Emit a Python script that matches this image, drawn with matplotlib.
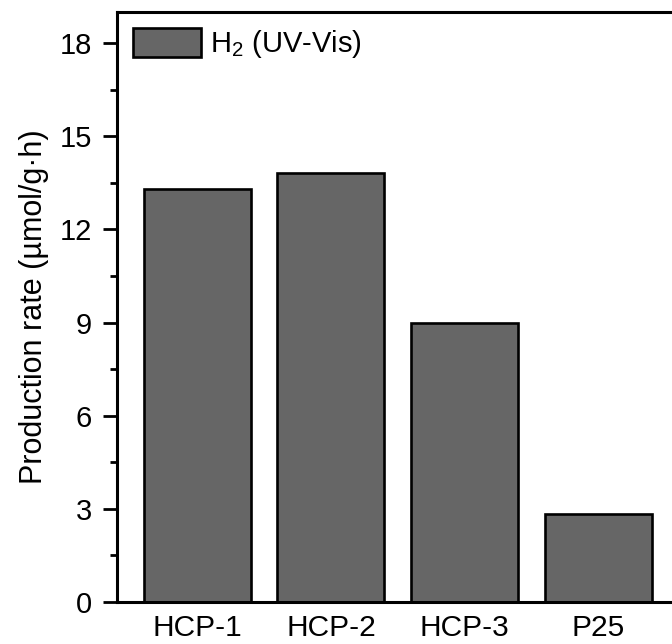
import matplotlib
matplotlib.use("Agg")
import matplotlib.pyplot as plt
from matplotlib.ticker import MultipleLocator

categories = ["HCP-1", "HCP-2", "HCP-3", "P25"]
values = [13.3, 13.8, 9.0, 2.83]
series_label = "H$_2$ (UV-Vis)"
yticks = [0, 3, 6, 9, 12, 15, 18]

plt.rcParams['font.family'] = ['Liberation Sans', 'DejaVu Sans']
plt.rcParams['mathtext.fontset'] = 'custom'
plt.rcParams['mathtext.rm'] = 'Liberation Sans'

fig = plt.figure(figsize=(6.72, 6.44), dpi=100)
ax = fig.add_axes([117/672, 42/644, 575/672, 590/644])

x = list(range(1, len(categories) + 1))
ax.bar(x, values, width=0.8, color="#666666", edgecolor="black", linewidth=1.9,
       label=series_label)

ax.set_xlim(0.4, 4.7)
ax.set_ylim(0, 19)
ax.set_yticks(yticks)
ax.yaxis.set_minor_locator(MultipleLocator(1.5))
ax.set_xticks(x)
ax.set_xticklabels(categories)

for s in ax.spines.values():
    s.set_linewidth(2.2)
ax.spines['right'].set_visible(False)

ax.tick_params(axis='y', which='major', direction='out', length=10, width=2.0,
               labelsize=21, pad=8)
ax.tick_params(axis='y', which='minor', direction='out', length=5, width=2.0)
ax.tick_params(axis='x', which='both', length=0, labelsize=21.5, pad=9)
ax.set_ylabel("Production rate (\u00b5mol/g\u00b7h)", fontsize=22, labelpad=8)

leg = ax.legend(loc='upper left', frameon=False, fontsize=21,
                handlelength=2.33, handleheight=1.16, handletextpad=0.3,
                borderpad=0.4, borderaxespad=0.15, bbox_to_anchor=(0.0, 1.0))

fig.savefig("out.png", dpi=100)
